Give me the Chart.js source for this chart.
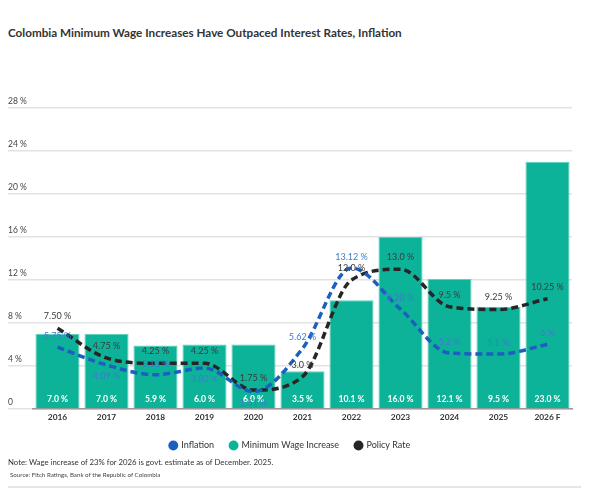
<!DOCTYPE html>
<html>
<head>
<meta charset="utf-8">
<script src="https://cdn.jsdelivr.net/npm/chart.js@4.4.1/dist/chart.umd.min.js"></script>
<style>
  body { margin: 0; background: #fff; font-family: Lato, sans-serif; }
  #wrap { position: relative; width: 589px; height: 495px; }
  #title { position: absolute; left: 8px; top: 25px; font-size: 11.7px; font-weight: bold; color: #333; }
  #box { position: absolute; left: 0; top: 90px; width: 589px; height: 370px; }
  #note { position: absolute; left: 8px; top: 457px; font-size: 7.8px; color: #333; }
  #source { position: absolute; left: 10px; top: 471px; font-size: 6.2px; color: #444; }
  #rule { position: absolute; left: 8px; right: 8px; top: 486px; border-top: 2px solid #e6e6e6; }
</style>
</head>
<body>
<div id="wrap">
  <div id="title">Colombia Minimum Wage Increases Have Outpaced Interest Rates, Inflation</div>
  <div id="box"><canvas id="wageChart"></canvas></div>
  <div id="note">Note: Wage increase of 23% for 2026 is govt. estimate as of December. 2025.</div>
  <div id="source">Source: Fitch Ratings, Bank of the Republic of Colombia</div>
  <div id="rule"></div>
</div>
<script>
// Chart data (kept as strings so labels keep their decimals)
const years = ['2016', '2017', '2018', '2019', '2020', '2021', '2022', '2023', '2024', '2025', '2026 F'];
const minWage = ['7.0', '7.0', '5.9', '6.0', '6.0', '3.5', '10.1', '16.0', '12.1', '9.5', '23.0'];
const inflation = ['5.75', '4.09', '3.18', '3.80', '1.61', '5.62', '13.12', '9.28', '5.2', '5.1', '6'];
const policyRate = ['7.50', '4.75', '4.25', '4.25', '1.75', '3.0', '12.0', '13.0', '9.5', '9.25', '10.25'];
const yTicks = [0, 4, 8, 12, 16, 20, 24, 28];

// where each inflation label sits relative to its point
const inflationLabelSide = ['up', 'down', 'up', 'down', 'down', 'up', 'up', 'up', 'up', 'up', 'up'];

const BLUE = '#1c5fbf';
const TEAL = '#0db399';
const BLACK = '#262626';

// Draws the value labels at the points the library computed
const valueLabels = {
    id: 'valueLabels',
    afterDatasetsDraw(chart) {
        const ctx = chart.ctx;
        const yScale = chart.scales.y;
        ctx.save();
        ctx.textAlign = 'center';
        ctx.textBaseline = 'middle';

        // bar labels, inside at the bottom
        ctx.font = 'bold 8.6px Lato';
        ctx.fillStyle = '#ffffff';
        chart.getDatasetMeta(1).data.forEach((bar, i) => {
            ctx.fillText(minWage[i] + ' %', bar.x, yScale.getPixelForValue(0) - 10);
        });

        // policy rate labels, above the line
        ctx.font = '9px Lato';
        ctx.fillStyle = '#3a3a3a';
        chart.getDatasetMeta(2).data.forEach((pt, i) => {
            ctx.fillText(policyRate[i] + ' %', pt.x, pt.y - 12);
        });

        // inflation labels
        ctx.fillStyle = '#3d7ccc';
        chart.getDatasetMeta(0).data.forEach((pt, i) => {
            const dy = inflationLabelSide[i] === 'up' ? -11 : 11;
            ctx.fillText(inflation[i] + ' %', pt.x, pt.y + dy);
        });
        ctx.restore();
    }
};

const lineStyle = {
    type: 'line',
    borderWidth: 3.5,
    borderDash: [7, 4],
    pointRadius: 0,
    pointHoverRadius: 0,
    cubicInterpolationMode: 'monotone',
    fill: false
};

const ctx = document.getElementById('wageChart').getContext('2d');
const wageChart = new Chart(ctx, {
    data: {
        labels: years,
        datasets: [
            {
                ...lineStyle,
                label: 'Inflation',
                data: inflation.map(Number),
                borderColor: BLUE,
                backgroundColor: BLUE,
                order: 1
            },
            {
                type: 'bar',
                label: 'Minimum Wage Increase',
                data: minWage.map(Number),
                backgroundColor: TEAL,
                borderColor: '#5fd0bd',
                borderWidth: 1,
                barPercentage: 0.9,
                categoryPercentage: 1.0,
                order: 3
            },
            {
                ...lineStyle,
                label: 'Policy Rate',
                data: policyRate.map(Number),
                borderColor: BLACK,
                backgroundColor: BLACK,
                order: 2
            }
        ]
    },
    options: {
        responsive: true,
        maintainAspectRatio: false,
        animation: false,
        layout: { padding: { left: 8, right: 17, top: 18, bottom: 0 } },
        plugins: {
            tooltip: { enabled: false },
            legend: {
                position: 'bottom',
                labels: {
                    usePointStyle: true,
                    pointStyle: 'circle',
                    boxWidth: 7,
                    boxHeight: 7,
                    padding: 16,
                    color: '#333',
                    font: { family: 'Lato', size: 9 },
                    // plain filled dots, no thick outline
                    generateLabels: (chart) => Chart.defaults.plugins.legend.labels.generateLabels(chart)
                        .map(item => ({ ...item, lineWidth: 0, lineDash: [], strokeStyle: item.fillStyle })),
                    sort: (a, b) => a.datasetIndex - b.datasetIndex
                }
            }
        },
        scales: {
            x: {
                grid: { display: false, drawTicks: false },
                border: { display: true, color: '#9a9a9a', width: 1.5 },
                ticks: {
                    color: '#333',
                    padding: 3,
                    font: { family: 'Lato', size: 8.4, weight: 'bold' }
                }
            },
            y: {
                min: 0,
                max: 28,
                afterBuildTicks: (scale) => { scale.ticks = yTicks.map(v => ({ value: v })); },
                afterFit: (scale) => { scale.width = 25; },
                grid: { color: '#e2e2e2', lineWidth: 1.5, tickLength: 25, drawTicks: true },
                border: { display: false },
                ticks: {
                    mirror: true,
                    padding: -25,
                    labelOffset: -7,
                    color: '#444',
                    font: { family: 'Lato', size: 8.5 },
                    callback: (v) => (v === 0 ? '0' : v + ' %')
                }
            }
        }
    },
    plugins: [valueLabels]
});
</script>
</body>
</html>
